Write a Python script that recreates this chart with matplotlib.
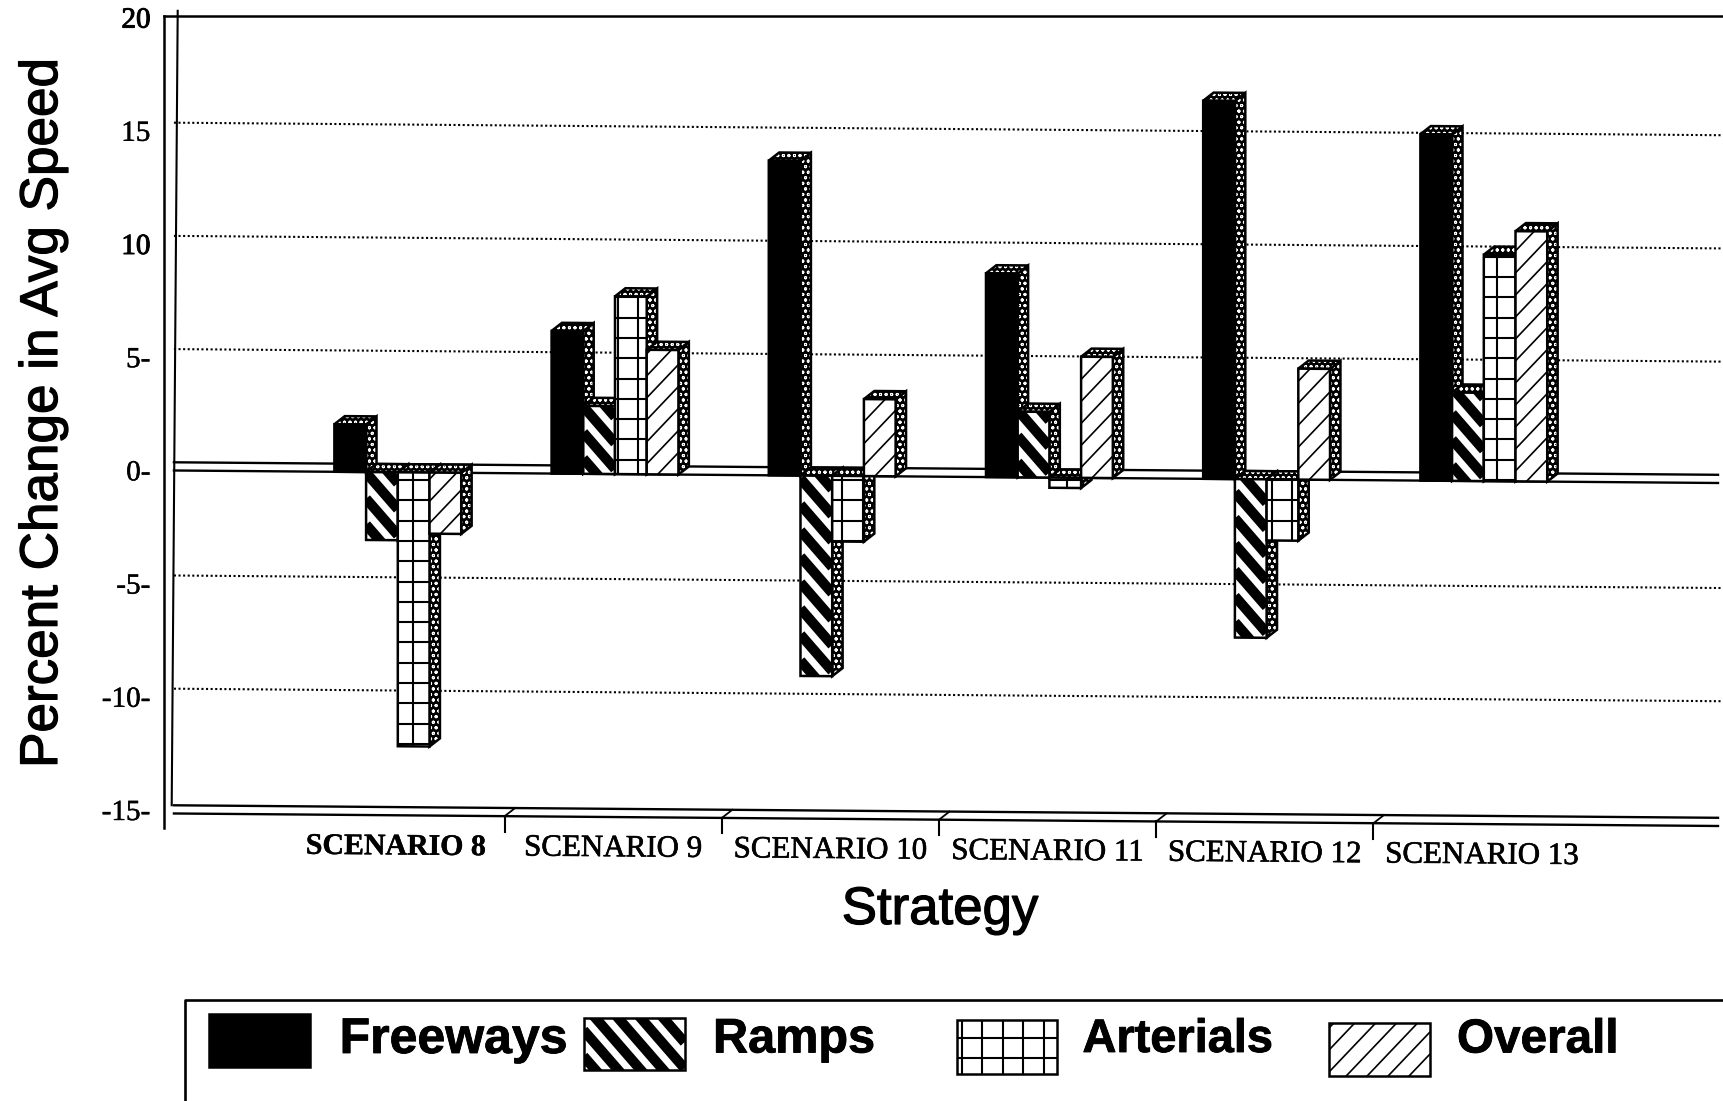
import numpy as np
import matplotlib
matplotlib.use("Agg")
import matplotlib.pyplot as plt
import matplotlib.patheffects as pe
from matplotlib.collections import LineCollection
from matplotlib.patches import Polygon, Rectangle
from matplotlib.transforms import Affine2D, IdentityTransform

# Chart values, percent change in average speed
scenarios = ["SCENARIO 8", "SCENARIO 9", "SCENARIO 10",
             "SCENARIO 11", "SCENARIO 12", "SCENARIO 13"]
freeways = [2.1, 6.3, 13.9, 9.0, 16.7, 15.3]
ramps = [-3.0, 3.0, -8.85, 2.9, -7.0, 3.9]
arterials = [-12.1, 7.85, -2.9, -0.45, -2.7, 10.0]
overall = [-2.7, 5.5, 3.4, 5.35, 4.9, 11.05]
series_names = ["Freeways", "Ramps", "Arterials", "Overall"]
y_ticks = [-15, -10, -5, 0, 5, 10, 15, 20]
y_tick_labels = ["-15-", "-10-", "-5-", "0-", "5-", "10", "15", "20"]

W, H = 1723, 1101
plt.rcParams["hatch.linewidth"] = 0.7
SERIF = "Liberation Serif"
SANS = "Liberation Sans"


def heavier(width):
    return [pe.withStroke(linewidth=width, foreground="black")]


fig = plt.figure(figsize=(W / 100, H / 100), dpi=100, facecolor="white")

# Axes frame and scale, laid out in pixels
ax_left, ax_right, ax_top, ax_bottom = 163.5, 1723.0, 16.0, 828.0
px_x0, px_per_cat = 397.8, 217.2
px_y0, px_per_unit = 470.4, 22.64
ax = fig.add_axes([ax_left / W, 1 - ax_bottom / H,
                   (ax_right - ax_left) / W, (ax_bottom - ax_top) / H])
xmin = (ax_left - px_x0) / px_per_cat
xmax = (ax_right - px_x0) / px_per_cat
ax.set_xlim(xmin, xmax)
ax.set_ylim((px_y0 - ax_bottom) / px_per_unit, (px_y0 - ax_top) / px_per_unit)
ax.set_autoscale_on(False)

for side in ("right", "bottom"):
    ax.spines[side].set_visible(False)
for side in ("left", "top"):
    ax.spines[side].set_linewidth(1.8)
ax.set_xticks([])
ax.set_yticks(y_ticks)
ax.set_yticklabels(y_tick_labels, family=SERIF, fontsize=21)
ax.tick_params(axis="y", length=0, pad=9.4)
for lab, tick in zip(ax.get_yticklabels(), y_ticks):
    lab.set_path_effects(heavier(0.7 if tick in (10, 20) else 0.3))

# The plot plane drifts slightly downward to the right
drift = 0.0777
skew = Affine2D.from_values(1, -drift, 0, 1, 0, drift * xmin) + ax.transData

depth_x, depth_y = 0.048, 0.362
floor = -15.15
bar_w = 0.146


def pixel_box(patch):
    return patch.get_path().transformed(patch.get_transform()).get_extents()


def add_lines(canvas, segs, lw, clip, z):
    lc = LineCollection(segs, colors="black", linewidths=lw,
                        transform=IdentityTransform(), zorder=z)
    if canvas is fig:
        fig.add_artist(lc)
    else:
        canvas.add_collection(lc, autolim=False)
    lc.set_clip_path(clip)
    return lc


def diagonal_segments(box, period, slope):
    # Parallel lines across a box, spaced by a vertical period in pixels
    reach = abs(slope) * box.width + period
    segs = []
    for y in np.arange(box.y0 - reach, box.y1 + reach, period):
        segs.append([(box.x0, y), (box.x1, y + slope * box.width)])
    return segs


def fill_pattern(canvas, patch, name, z, grid_anchor=(413.0, 480.0)):
    box = pixel_box(patch)
    if name == "Ramps":
        add_lines(canvas, diagonal_segments(box, 26, -1.15), 7.3, patch, z)
    elif name == "Overall":
        add_lines(canvas, diagonal_segments(box, 22, 1.05), 1.2, patch, z)
    elif name == "Arterials":
        # The grid keeps one phase across the page rather than restarting per bar
        step_x, step_y = 20.45, 20.3
        ax_, ay_ = grid_anchor[0], H - grid_anchor[1]
        xs = ax_ + step_x * np.arange(np.ceil((box.x0 - ax_) / step_x),
                                      np.floor((box.x1 - ax_) / step_x) + 1)
        ys = ay_ + step_y * np.arange(np.ceil((box.y0 - ay_) / step_y),
                                      np.floor((box.y1 - ay_) / step_y) + 1)
        segs = [[(x, box.y0), (x, box.y1)] for x in xs]
        segs += [[(box.x0, y), (box.x1, y)] for y in ys]
        add_lines(canvas, segs, 1.5, patch, z)


def speckled_face(points, z):
    # Dark side and top faces of the extruded bars, with a fine light dot texture
    ax.add_patch(Polygon(points, closed=True, facecolor="black", edgecolor="white",
                         hatch="ooo", linewidth=0, transform=skew, zorder=z))
    ax.add_patch(Polygon(points, closed=True, fill=False, edgecolor="black",
                         linewidth=1.8, transform=skew, zorder=z + 0.01))


# Back wall: dotted gridlines, then the solid zero and floor planes
for v in (-10, -5, 5, 10, 15):
    ax.plot([xmin + depth_x, xmax], [v + depth_y] * 2, color="black", lw=1.5,
            ls=(0, (1, 1.2)), transform=skew, zorder=1, clip_on=False)
line_end = (1718 - px_x0) / px_per_cat
for level in (0, floor):
    for off in (0, depth_y):
        ax.plot([xmin + depth_x, line_end], [level + off] * 2, color="black", lw=1.7,
                transform=skew, zorder=1.5)

# Inner wall leans slightly to the right toward the top
ax.plot([xmin + 8.2 / px_per_cat, xmin + 14.2 / px_per_cat], [floor + depth_y, 20.3],
        color="black", lw=1.5, zorder=1.5, clip_on=False)

# Category boundary ticks and labels
for i in range(len(scenarios) - 1):
    x = i + 0.5
    ax.plot([x - 0.008, x - 0.008], [floor, floor - 0.68], color="black", lw=1.5,
            transform=skew, clip_on=False, zorder=1.6)
    ax.plot([x - 0.008, x - 0.008 + depth_x], [floor, floor + depth_y], color="black",
            lw=1.3, transform=skew, zorder=1.6)

for i, name in enumerate(scenarios):
    ax.text(i - 0.008, -16.55, name, family=SERIF,
            fontsize=21.5 if i == 0 else 22.3, fontweight="bold" if i == 0 else "normal",
            ha="center", va="center", rotation=-0.46, rotation_mode="anchor",
            transform=skew, clip_on=False, color="black",
            path_effects=heavier(0.3 if i == 0 else 0.45))

# Bars, painted from left to right so each covers its neighbour's side face
all_series = [freeways, ramps, arterials, overall]
z = 2.0
for g in range(len(scenarios)):
    for s, (name, values) in enumerate(zip(series_names, all_series)):
        v = values[g]
        x0 = g + (s - 2) * bar_w
        x1 = x0 + bar_w
        top = max(v, 0)
        speckled_face([(x1, 0), (x1, v), (x1 + depth_x, v + depth_y),
                       (x1 + depth_x, depth_y)], z)
        speckled_face([(x0, top), (x1, top), (x1 + depth_x, top + depth_y),
                       (x0 + depth_x, top + depth_y)], z + 0.02)
        bar = ax.bar(x0, v, width=bar_w, align="edge",
                     color="black" if name == "Freeways" else "white",
                     edgecolor="black", linewidth=1.8, zorder=z + 0.04)[0]
        bar.set_transform(skew)
        fill_pattern(ax, bar, name, z + 0.06)
        z += 0.1

# Axis titles
fig.text(43 / W, 1 - 413 / H, "Percent Change in Avg Speed", family=SANS, fontsize=38.2,
         rotation=90, ha="center", va="center", path_effects=heavier(0.9))
fig.text(940 / W, 1 - 910 / H, "Strategy", family=SANS, fontsize=38,
         ha="center", va="center", path_effects=heavier(0.9))

# Key along the bottom edge, with the box running off the page
pixels = Affine2D().scale(1, -1).translate(0, H)
fig.add_artist(plt.Line2D([185, 185, W], [H, 1000, 1000], color="black", lw=1.9,
                          transform=pixels))
swatches = [(209, 1014, 101, 53), (583.5, 1018, 101, 52),
            (957, 1020, 100, 54), (1329, 1023, 101, 53)]
text_left = [339.6, 713, 1082.5, 1457]
text_size = [36, 35, 33.8, 34.3]
for name, (sx, sy, sw, sh), tx, fs in zip(series_names, swatches, text_left, text_size):
    swatch = Rectangle((sx, sy), sw, sh, facecolor="black" if name == "Freeways" else "white",
                       edgecolor="black", linewidth=1.8, transform=pixels, zorder=3)
    fig.add_artist(swatch)
    fill_pattern(fig, swatch, name, 4, grid_anchor=(962.0, 1038.0))
    fig.text(tx / W, 1 - 1040 / H, name, family=SANS, fontweight="bold", fontsize=fs,
             ha="left", va="center", path_effects=heavier(0.6))

fig.savefig("out.png", dpi=100, facecolor="white")
